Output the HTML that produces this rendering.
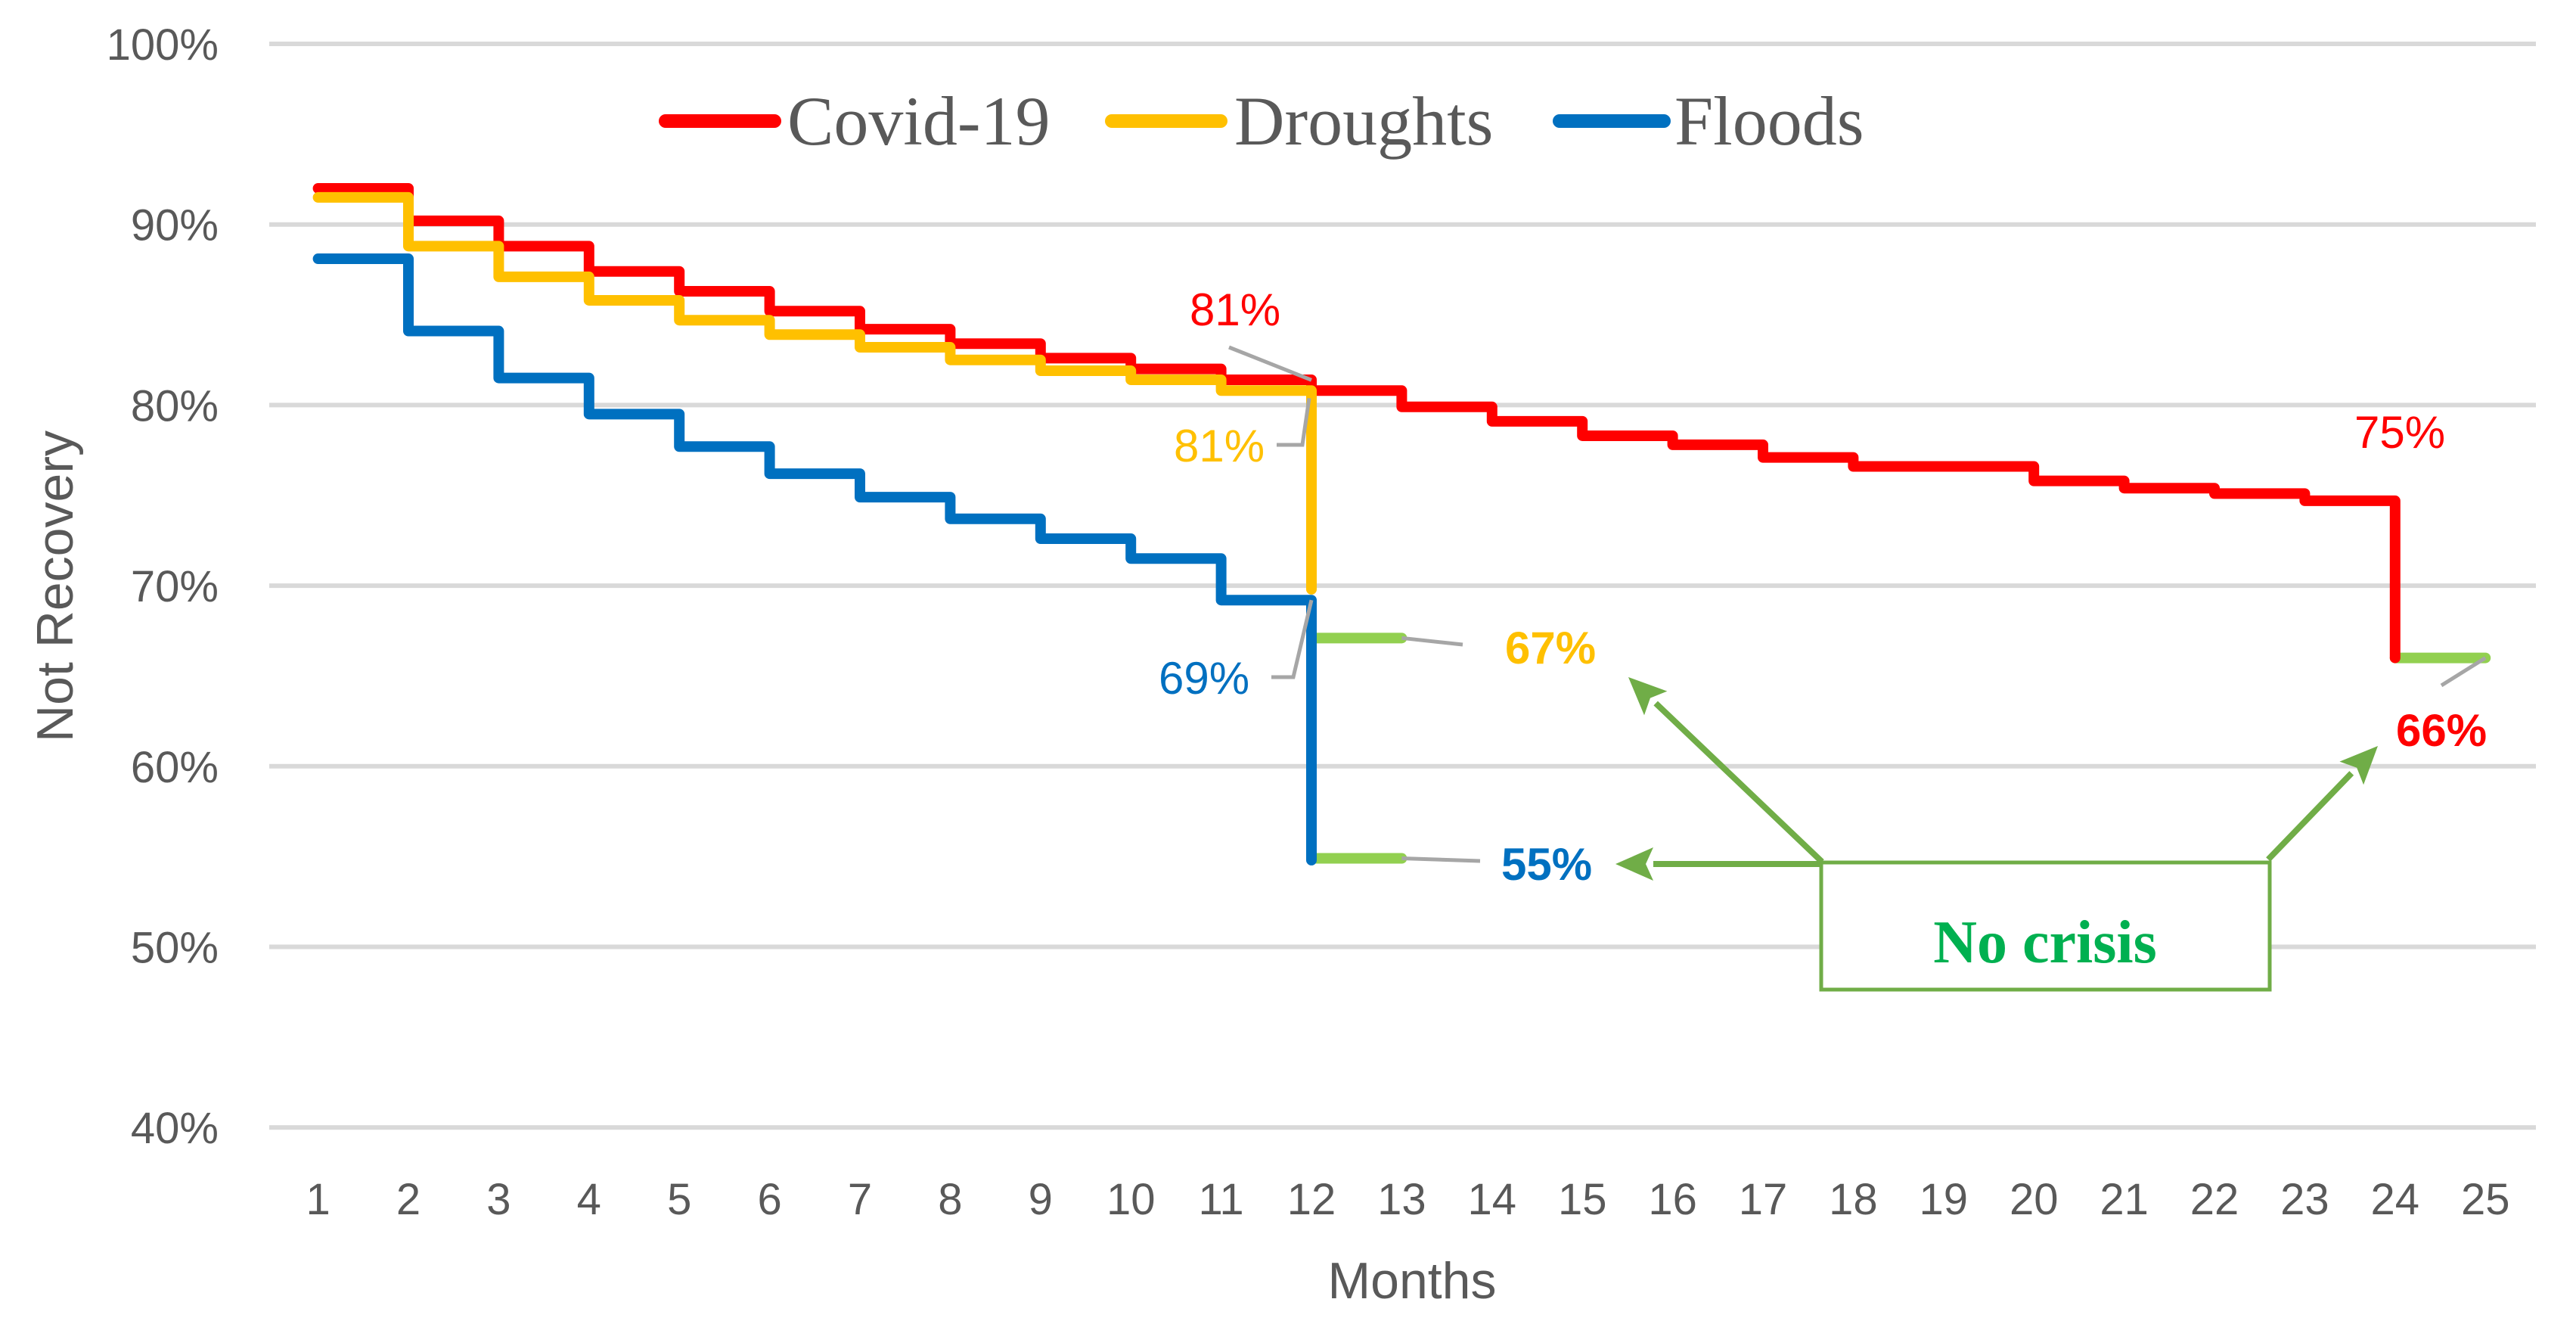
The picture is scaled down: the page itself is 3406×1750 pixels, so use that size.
<!DOCTYPE html>
<html><head><meta charset="utf-8"><style>
html,body{margin:0;padding:0;background:#fff;}
svg{display:block;}
</style></head><body>
<svg id="chart" width="3406" height="1750" viewBox="0 0 3406 1750" xmlns="http://www.w3.org/2000/svg">
<g id="grid"></g>
<g id="yt"></g>
<g id="xt"></g>
<g id="series"></g>
<text x="1867" y="1716" font-family="Liberation Sans, sans-serif" font-size="68" fill="#595959" text-anchor="middle">Months</text>
<text transform="translate(96,775) rotate(-90)" font-family="Liberation Sans, sans-serif" font-size="68" fill="#595959" text-anchor="middle">Not Recovery</text>
<g font-family="Liberation Serif, serif" font-size="92" fill="#595959">
 <g><line x1="880" y1="160" x2="1024" y2="160" stroke="#ff0000" stroke-width="18" stroke-linecap="round"/><text x="1041" y="191">Covid-19</text></g>
 <g><line x1="1470" y1="160" x2="1614" y2="160" stroke="#ffc000" stroke-width="18" stroke-linecap="round"/><text x="1632" y="191">Droughts</text></g>
 <g><line x1="2062" y1="160" x2="2200" y2="160" stroke="#0070c0" stroke-width="18" stroke-linecap="round"/><text x="2214" y="191">Floods</text></g>
</g>
<g id="ann"></g>
</svg>
<script>
const months = [1,2,3,4,5,6,7,8,9,10,11,12,13,14,15,16,17,18,19,20,21,22,23,24,25];
const yTicks = [40,50,60,70,80,90,100];
const covid = [92.0,90.2,88.8,87.4,86.3,85.2,84.2,83.4,82.6,82.0,81.4,80.8,79.9,79.1,78.3,77.8,77.1,76.6,76.6,75.8,75.4,75.1,74.7,66.0];
const droughts = [91.5,88.8,87.1,85.8,84.7,83.9,83.2,82.5,81.9,81.4,80.8,69.8];
const floods = [88.1,84.1,81.5,79.5,77.7,76.2,74.9,73.7,72.6,71.5,69.2,54.8];
const noCrisisDroughts = 67.1;
const noCrisisFloods = 54.9;
const noCrisisCovid = 66.0;
const labelCovid12 = "81%", labelDrought12 = "81%", labelFlood12 = "69%", labelCovid24 = "75%";

const NS="http://www.w3.org/2000/svg";
const X = m => 420.6 + (m-1)*119.4;
const Y = v => 58 + (100-v)*23.87;
function mk(tag, attrs, parent){const e=document.createElementNS(NS,tag);for(const k in attrs)e.setAttribute(k,attrs[k]);parent.appendChild(e);return e;}
const grid=document.getElementById('grid'), yt=document.getElementById('yt'), xt=document.getElementById('xt'), ser=document.getElementById('series'), ann=document.getElementById('ann');
yTicks.forEach(t=>{
  const l=mk('line',{x1:356,x2:3353,y1:Y(t),y2:Y(t),stroke:'#d9d9d9','stroke-width':6},grid);
  
  
  const tx=mk('text',{x:289,y:Y(t)+21,'font-family':'Liberation Sans, sans-serif','font-size':58,fill:'#595959','text-anchor':'end'},yt);
  tx.textContent=t+'%';
  
  
});
months.forEach(m=>{
  const tx=mk('text',{x:X(m),y:1605,'font-family':'Liberation Sans, sans-serif','font-size':58,fill:'#595959','text-anchor':'middle'},xt);
  tx.textContent=m;
  
  
});
function stepPath(vals){
  let d='M'+X(1)+' '+Y(vals[0]);
  for(let i=0;i<vals.length-1;i++){
    d+=' H'+X(i+2)+' V'+Y(vals[i+1]);
  }
  return d;
}
function drawSeries(vals,color,name){
  const p=mk('path',{d:stepPath(vals),fill:'none',stroke:color,'stroke-width':14,'stroke-linejoin':'round','stroke-linecap':'round'},ser);
  
  
}
function green(m1,m2,v,name){
  const l=mk('line',{x1:X(m1),x2:X(m2),y1:Y(v),y2:Y(v),stroke:'#92d050','stroke-width':14,'stroke-linecap':'round'},ser);
  
  
}
green(12,13,noCrisisDroughts,'no-crisis-droughts-line');
green(12,13,noCrisisFloods,'no-crisis-floods-line');
green(24,25,noCrisisCovid,'no-crisis-covid-line');
drawSeries(covid,'#ff0000','covid-line');
drawSeries(droughts,'#ffc000','droughts-line');
drawSeries(floods,'#0070c0','floods-line');

function leader(pts,name){
  const p=mk('polyline',{points:pts.map(a=>a.join(',')).join(' '),fill:'none',stroke:'#a6a6a6','stroke-width':5},ann);
  
  
}
function label(x,y,txt,color,bold,name){
  const t=mk('text',{x:x,y:y,'font-family':'Liberation Sans, sans-serif','font-size':bold?60:60,fill:color,'text-anchor':'middle','font-weight':bold?'bold':'normal'},ann);
  t.textContent=txt;
  
  
}
leader([[1625,459],[X(12),Y(covid[11])-14]],'covid-81-leader');
label(1633,430,labelCovid12,'#ff0000',false,'covid-81-label');
leader([[1688,588],[1722,588],[X(12)-3,Y(droughts[10])+10]],'drought-81-leader');
label(1612,610,labelDrought12,'#ffc000',false,'drought-81-label');
leader([[1681,895],[1710,895],[X(12),Y(floods[10])]],'flood-69-leader');
label(1592,917,labelFlood12,'#0070c0',false,'flood-69-label');
leader([[X(13),Y(noCrisisDroughts)],[1934,852]],'drought-67-leader');
label(2050,877,noCrisisDroughts.toFixed(0)+'%','#ffc000',true,'drought-67-label');
leader([[X(13),Y(noCrisisFloods)],[1957,1138]],'flood-55-leader');
label(2045,1163,noCrisisFloods.toFixed(0)+'%','#0070c0',true,'flood-55-label');
label(3173,592,labelCovid24,'#ff0000',false,'covid-75-label');
leader([[X(25),Y(noCrisisCovid)],[3228,906]],'covid-66-leader');
label(3228,986,noCrisisCovid.toFixed(0)+'%','#ff0000',true,'covid-66-label');

const G='#70ad47';
function arrow(x1,y1,x2,y2,name){
  const g=mk('g',{},ann);
  
  
  const a=Math.atan2(y2-y1,x2-x1), L=50, W=22;
  const bx=x2-L*Math.cos(a), by=y2-L*Math.sin(a);
  mk('line',{x1:x1,y1:y1,x2:bx,y2:by,stroke:G,'stroke-width':8},g);
  const px=-Math.sin(a)*W, py=Math.cos(a)*W;
  mk('polygon',{points:`${x2},${y2} ${bx+px},${by+py} ${bx+10*Math.cos(a)},${by+10*Math.sin(a)} ${bx-px},${by-py}`,fill:G},g);
}
arrow(2409,1142,2136,1142,'arrow-to-55');
arrow(2409,1139,2153,895,'arrow-to-67');
arrow(2999,1136,3144,986,'arrow-to-66');
const box=mk('rect',{x:2408,y:1140,width:593,height:168,fill:'#fff',stroke:G,'stroke-width':5},ann);


const nc=mk('text',{x:2704,y:1272,'font-family':'Liberation Serif, serif','font-size':80,'font-weight':'bold',fill:'#00b050','text-anchor':'middle'},ann);
nc.textContent='No crisis';


</script>
</body></html>
